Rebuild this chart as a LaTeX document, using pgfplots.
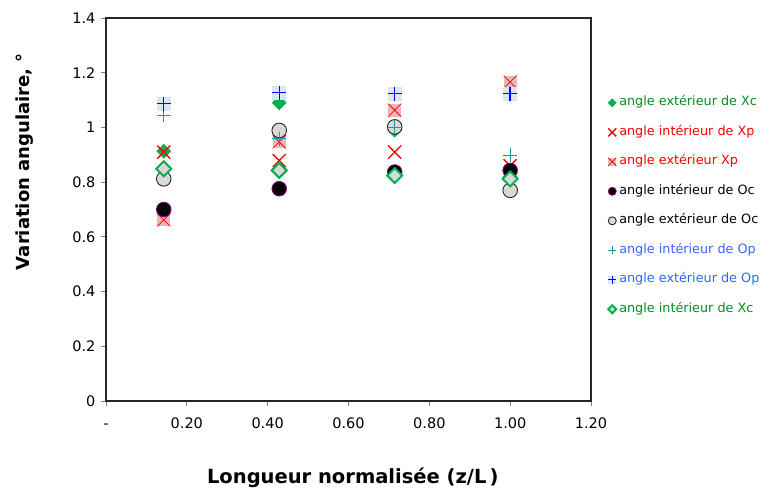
\documentclass[border=0pt]{standalone}
\usepackage{fontspec}
\setmainfont{DejaVu Sans}
\usepackage{pgfplots}
\pgfplotsset{compat=1.18}

\definecolor{xcgreen}{HTML}{00B050}
\definecolor{xctext}{HTML}{009020}
\definecolor{pinkfill}{HTML}{E6B9B8}
\definecolor{bluefill}{HTML}{DCE6F2}
\definecolor{ocedge}{HTML}{800080}
\definecolor{greyfill}{HTML}{D9D9D9}
\definecolor{optext}{HTML}{3366FF}
\definecolor{tealc}{HTML}{139C9C}

% excel-like marks
\pgfdeclareplotmark{xx}{%
  \pgfpathmoveto{\pgfqpoint{-\pgfplotmarksize}{-\pgfplotmarksize}}%
  \pgfpathlineto{\pgfqpoint{\pgfplotmarksize}{\pgfplotmarksize}}%
  \pgfpathmoveto{\pgfqpoint{-\pgfplotmarksize}{\pgfplotmarksize}}%
  \pgfpathlineto{\pgfqpoint{\pgfplotmarksize}{-\pgfplotmarksize}}%
  \pgfusepathqstroke}
\pgfdeclareplotmark{boxx}{%
  \pgfpathrectangle{\pgfqpoint{-\pgfplotmarksize}{-\pgfplotmarksize}}{\pgfqpoint{2\pgfplotmarksize}{2\pgfplotmarksize}}%
  \pgfusepathqfill
  \pgfpathmoveto{\pgfqpoint{-\pgfplotmarksize}{-\pgfplotmarksize}}%
  \pgfpathlineto{\pgfqpoint{\pgfplotmarksize}{\pgfplotmarksize}}%
  \pgfpathmoveto{\pgfqpoint{-\pgfplotmarksize}{\pgfplotmarksize}}%
  \pgfpathlineto{\pgfqpoint{\pgfplotmarksize}{-\pgfplotmarksize}}%
  \pgfusepathqstroke}
\pgfdeclareplotmark{boxplus}{%
  \pgfpathrectangle{\pgfqpoint{-\pgfplotmarksize}{-\pgfplotmarksize}}{\pgfqpoint{2\pgfplotmarksize}{2\pgfplotmarksize}}%
  \pgfusepathqfill
  \pgfpathmoveto{\pgfqpoint{-\pgfplotmarksize}{0pt}}%
  \pgfpathlineto{\pgfqpoint{\pgfplotmarksize}{0pt}}%
  \pgfpathmoveto{\pgfqpoint{0pt}{-\pgfplotmarksize}}%
  \pgfpathlineto{\pgfqpoint{0pt}{\pgfplotmarksize}}%
  \pgfusepathqstroke}
\pgfdeclareplotmark{dia}{%
  \pgfpathmoveto{\pgfqpoint{0pt}{\pgfplotmarksize}}%
  \pgfpathlineto{\pgfqpoint{\pgfplotmarksize}{0pt}}%
  \pgfpathlineto{\pgfqpoint{0pt}{-\pgfplotmarksize}}%
  \pgfpathlineto{\pgfqpoint{-\pgfplotmarksize}{0pt}}%
  \pgfpathclose
  \pgfusepathqfillstroke}

\begin{document}
\begin{tikzpicture}
\useasboundingbox (0,0) rectangle (770pt,492pt);
\begin{axis}[
    at={(106pt,91pt)}, anchor=south west,
    scale only axis, width=485pt, height=383pt,
    xmin=0, xmax=1.2, ymin=0, ymax=1.4,
    xtick={0,0.2,0.4,0.6,0.8,1.0,1.2},
    xticklabels={-,0.20,0.40,0.60,0.80,1.00,1.20},
    ytick={0,0.2,0.4,0.6,0.8,1,1.2,1.4},
    yticklabels={0,0.2,0.4,0.6,0.8,1,1.2,1.4},
    xtick pos=bottom, ytick pos=left,
    tick align=outside, major tick length=5pt,
    every tick/.style={gray, line width=0.8pt},
    axis line style={black!85, line width=1.2pt},
    ticklabel style={font=\fontsize{14.5}{17}\selectfont},
    xticklabel style={text height=10.5pt, text depth=0pt, yshift=-8pt},
    yticklabel style={xshift=-2pt},
    xlabel={Longueur normalisée (z/L\,)},
    ylabel={Variation angulaire, °},
    every axis x label/.style={at={(axis description cs:0.509,-0.201)}, anchor=center,
        font=\fontsize{19.5}{23}\selectfont\bfseries},
    every axis y label/.style={at={(axis description cs:-0.167,0.625)}, anchor=center, rotate=90,
        font=\fontsize{18}{21}\selectfont\bfseries},
    legend cell align=left,
    legend style={at={(1.029,0.80)}, anchor=north west, draw=none, fill=none,
        font=\fontsize{12.8}{15}\selectfont,
        nodes={inner sep=0pt, text height=9pt, text depth=3pt},
        row sep=17.5pt, column sep=3pt},
    legend image code/.code={\draw[#1, mark size=4pt] plot coordinates {(4pt,0pt)};},
    only marks,
]
\addplot[mark=dia, mark size=7pt, draw=xcgreen, fill=xcgreen, line width=0.5pt]
  coordinates {(0.1429,0.913) (0.4286,1.09) (0.7143,0.99) (1.0,0.82)};
\addlegendentry{\textcolor{xctext}{angle extérieur de Xc}}
\addplot[mark=xx, mark size=6.5pt, draw=red, line width=1.4pt]
  coordinates {(0.1429,0.91) (0.4286,0.879) (0.7143,0.91) (1.0,0.86)};
\addlegendentry{\textcolor{red}{angle intérieur de Xp}}
\addplot[mark=boxx, mark size=6.5pt, draw=red, fill=pinkfill, line width=0.8pt]
  coordinates {(0.1429,0.662) (0.4286,0.947) (0.7143,1.063) (1.0,1.166)};
\addlegendentry{\textcolor{red}{angle extérieur Xp}}
\addplot[mark=*, mark size=7.3pt, draw=ocedge, fill=black, line width=0.8pt]
  coordinates {(0.1429,0.70) (0.4286,0.776) (0.7143,0.837) (1.0,0.843)};
\addlegendentry{angle intérieur de Oc}
\addplot[mark=*, mark size=7.3pt, draw=black!85, fill=greyfill, line width=0.9pt]
  coordinates {(0.1429,0.812) (0.4286,0.989) (0.7143,1.002) (1.0,0.77)};
\addlegendentry{angle extérieur de Oc}
\addplot[mark=+, mark size=7pt, draw=tealc, line width=1.3pt]
  coordinates {(0.1429,1.044) (0.4286,0.959) (0.7143,1.00) (1.0,0.898)};
\addlegendentry{\textcolor{optext}{angle intérieur de Op}}
\addplot[mark=boxplus, mark size=7pt, draw=blue, fill=bluefill, line width=1.4pt]
  coordinates {(0.1429,1.087) (0.4286,1.127) (0.7143,1.124) (1.0,1.124)};
\addlegendentry{\textcolor{optext}{angle extérieur de Op}}
\addplot[mark=dia, mark size=7.5pt, draw=xcgreen, fill=greyfill, line width=2pt]
  coordinates {(0.1429,0.849) (0.4286,0.843) (0.7143,0.824) (1.0,0.812)};
\addlegendentry{\textcolor{xctext}{angle intérieur de Xc}}
\end{axis}
\end{tikzpicture}
\end{document}
